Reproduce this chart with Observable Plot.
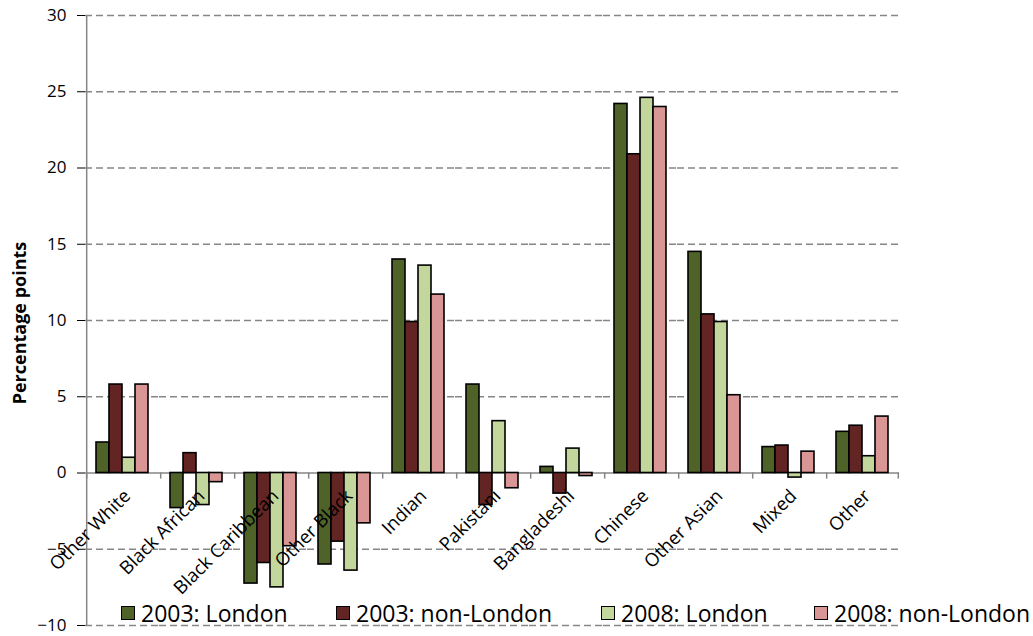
<!DOCTYPE html>
<html><head><meta charset="utf-8">
<script src="https://cdn.jsdelivr.net/npm/d3@7"></script>
<script src="https://cdn.jsdelivr.net/npm/@observablehq/plot@0.6"></script>
<style>
body{margin:0;background:#fff;font-family:"Open Sans",sans-serif;}
#wrap{position:relative;width:1033px;height:636px;overflow:hidden;}
#legend{position:absolute;left:0;top:598px;width:1033px;height:30px;}
.item{position:absolute;top:0;display:flex;align-items:center;font-size:23px;line-height:30px;color:#000;white-space:nowrap;}
.sw{width:12px;height:12px;border:1.6px solid #000;margin-right:6px;}
#ylabel{position:absolute;left:19px;top:323px;transform:translate(-50%,-50%) rotate(-90deg);font-weight:bold;font-size:18px;white-space:nowrap;color:#000;}
svg [aria-label="y-axis tick"]{stroke:#868686;}
</style></head><body><div id="wrap"><div id="chart"></div><div id="ylabel"></div><div id="legend"></div></div>
<script>
const categories = ["Other White","Black African","Black Caribbean","Other Black","Indian","Pakistani","Bangladeshi","Chinese","Other Asian","Mixed","Other"];
const seriesNames = ["2003: London","2003: non-London","2008: London","2008: non-London"];
const london2003    = [2.0,-2.3,-7.25,-6.0,14.0, 5.8, 0.4,24.2,14.5, 1.7,2.7];
const nonLondon2003 = [5.8, 1.3,-5.9,-4.5, 9.9,-2.1,-1.35,20.9,10.4, 1.8,3.1];
const london2008    = [1.0,-2.1,-7.5,-6.4,13.6, 3.4, 1.6,24.6, 9.9,-0.3,1.1];
const nonLondon2008 = [5.8,-0.6,-4.8,-3.3,11.7,-1.0,-0.2,24.0, 5.1, 1.4,3.7];
const yTicks = [-10,-5,0,5,10,15,20,25,30];
const yTitle = "Percentage points";
const colors = ["#4F6228","#632523","#C3D69B","#D99694"];

const seriesValues = [london2003, nonLondon2003, london2008, nonLondon2008];
const data = categories.flatMap((c,i)=>seriesNames.map((s,j)=>({category:c, series:s, value:seriesValues[j][i]})));

const W=1033, H=636, mL=84, mR=134, mT=15, mB=11;
const pad = 0.68;
const facetW = (W-mL-mR)/categories.length;
const step = facetW/(seriesNames.length + 2*pad);
const edge = pad*step + step/2; // from first band centre to facet edge
const gray = "#868686";

const chart = Plot.plot({
  width: W, height: H, marginLeft: mL, marginRight: mR, marginTop: mT, marginBottom: mB,
  style: {fontFamily: "'Open Sans', sans-serif", fontSize: "17px", color: "#000", background: "#fff"},
  fx: {domain: categories, padding: 0, axis: null},
  x: {domain: seriesNames, paddingInner: 0, paddingOuter: pad, axis: null},
  y: {domain: [-10,30], ticks: yTicks, tickSize: 8, tickPadding: 11, label: null},
  color: {domain: seriesNames, range: colors},
  marks: [
    Plot.ruleY(yTicks.filter(d=>d!==0), {stroke: gray, strokeWidth: 1.4, strokeDasharray: "7,4"}),
    Plot.ruleY([0], {stroke: gray, strokeWidth: 1.5}),
    Plot.ruleX(categories, {fx: d=>d, x: () => seriesNames[0], y1: 0, y2: -0.4, dx: -edge, stroke: gray, strokeWidth: 1.5}),
    Plot.ruleX([categories[categories.length-1]], {fx: d=>d, x: () => seriesNames[seriesNames.length-1], y1: 0, y2: -0.4, dx: edge, stroke: gray, strokeWidth: 1.5}),
    Plot.ruleX([categories[0]], {fx: d=>d, x: () => seriesNames[0], y1: -10, y2: 30, dx: -edge, stroke: gray, strokeWidth: 1.5}),
    Plot.barY(data, {fx: "category", x: "series", y: "value", fill: "series", stroke: "#000", strokeWidth: 1.6}),
    Plot.text(categories, {fx: d=>d, text: d=>d, y: () => 0, rotate: -45, textAnchor: "end", lineAnchor: "middle", dx: 5, dy: 20, fontSize: 18.5, fill: "#000"})
  ]
});
document.getElementById("chart").appendChild(chart);
document.getElementById("ylabel").textContent = yTitle;

const legendLeft = [121, 336, 601, 814];
const legend = document.getElementById("legend");
seriesNames.forEach((s,i)=>{
  const it = document.createElement("div");
  it.className = "item";
  it.style.left = legendLeft[i] + "px";
  const sw = document.createElement("span");
  sw.className = "sw";
  sw.style.background = colors[i];
  it.appendChild(sw);
  it.appendChild(document.createTextNode(s));
  legend.appendChild(it);
});
</script></body></html>
